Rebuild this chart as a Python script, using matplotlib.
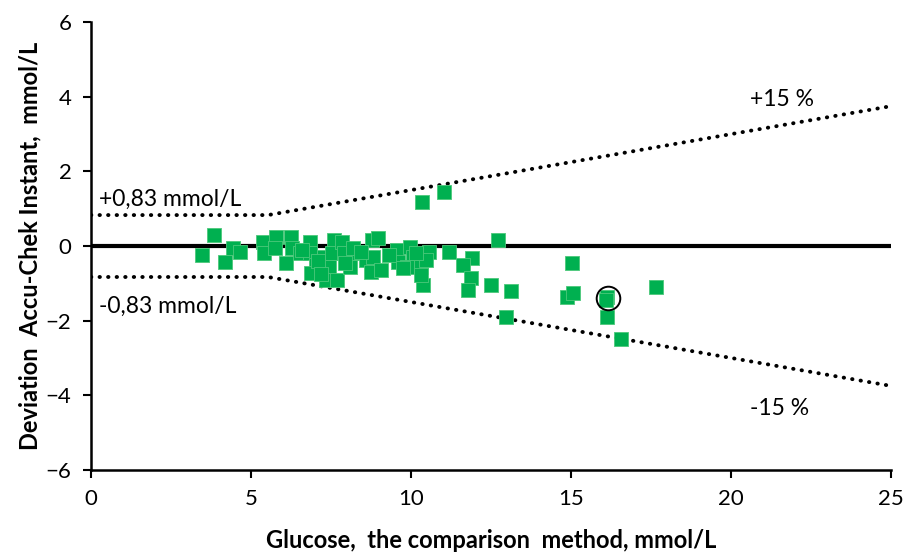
import matplotlib
matplotlib.use("Agg")
import matplotlib.pyplot as plt
import numpy as np

plt.rcParams['font.family'] = ['Lato', 'DejaVu Sans']

glucose = [3.84, 3.48, 4.20, 4.43, 4.66, 5.38, 5.42, 5.79, 5.74, 6.25, 6.28, 6.09, 6.53,
           6.86, 6.83, 7.02, 6.89, 7.27, 7.60, 7.52, 7.43, 7.35, 7.68, 7.84, 7.92, 8.09,
           8.33, 8.58, 8.79, 8.96, 8.82, 8.74, 9.07, 9.56, 9.61, 9.97, 10.05, 9.89, 10.30,
           10.38, 10.55, 10.47, 10.30, 11.20, 11.91, 11.64, 11.89, 11.78, 12.51, 13.13,
           12.71, 12.96, 15.02, 14.89, 15.05, 16.12, 16.08, 16.12, 16.56, 17.67, 10.33, 11.02,
           6.60, 7.10, 7.95, 8.20, 9.30, 9.75, 10.15, 7.20, 8.45]
deviation = [0.29, -0.24, -0.42, -0.06, -0.17, 0.12, -0.20, 0.25, -0.06, 0.25, -0.06, -0.46, -0.20,
             0.12, -0.20, -0.51, -0.73, -0.29, 0.16, -0.20, -0.55, -0.91, -0.91, 0.12, -0.20, -0.55,
             -0.20, -0.38, 0.16, 0.21, -0.29, -0.69, -0.64, -0.11, -0.42, -0.02, -0.29, -0.55, -0.55,
             -1.04, -0.15, -0.38, -0.78, -0.15, -0.33, -0.51, -0.87, -1.18, -1.04, -1.20,
             0.16, -1.89, -0.45, -1.36, -1.25, -1.36, -1.45, -1.91, -2.48, -1.11, 1.19, 1.45,
             -0.10, -0.40, -0.45, -0.05, -0.25, -0.60, -0.20, -0.75, -0.15]
circled = (16.16, -1.39)
abs_limit = 0.83
pct_limit = 0.15
x_max = 25

fig = plt.figure(figsize=(9.07, 5.56), dpi=100)
ax = fig.add_axes([0.1003, 0.155, 0.882, 0.805])

# limit lines
xb = abs_limit / pct_limit
lx = [0, xb, x_max]
ly = [abs_limit, abs_limit, pct_limit * x_max]
dot = (0, (0.1, 2.1))
ax.plot(lx, ly, color='black', lw=2.8, linestyle=dot, dash_capstyle='round', zorder=2)
ax.plot(lx, [-v for v in ly], color='black', lw=2.8, linestyle=dot, dash_capstyle='round', zorder=2)

ax.axhline(0, color='black', lw=3.0, zorder=1)

ax.scatter(glucose, deviation, marker='s', s=105, color='#00B050', edgecolors='#4CC87A',
           linewidths=0.6, zorder=3)
ax.plot([circled[0]], [circled[1]], marker='o', markersize=17, markerfacecolor='none',
        markeredgecolor='black', markeredgewidth=1.4, zorder=4)

fs = 16.5
ax.text(0.25, 1.25, '+0,83 mmol/L', fontsize=fs, ha='left', va='center')
ax.text(0.25, -1.62, '-0,83 mmol/L', fontsize=fs, ha='left', va='center')
ax.text(20.6, 3.92, '+15 %', fontsize=fs, ha='left', va='center')
ax.text(20.6, -4.35, '-15 %', fontsize=fs, ha='left', va='center')

ax.set_xlim(0, 25)
ax.set_ylim(-6, 6)
ax.set_xticks([0, 5, 10, 15, 20, 25])
ax.set_yticks([-6, -4, -2, 0, 2, 4, 6])
ax.spines['top'].set_visible(False)
ax.spines['right'].set_visible(False)
for s in ['left', 'bottom']:
    ax.spines[s].set_linewidth(1.8)
ax.tick_params(direction='out', length=6, width=1.5, labelsize=16, pad=8)

ax.set_xlabel('Glucose,  the comparison  method, mmol/L', fontsize=17, fontweight='bold', labelpad=14)
ax.set_ylabel('Deviation  Accu-Chek Instant,  mmol/L', fontsize=17, fontweight='bold', labelpad=3)

fig.savefig('out.png', dpi=100)
